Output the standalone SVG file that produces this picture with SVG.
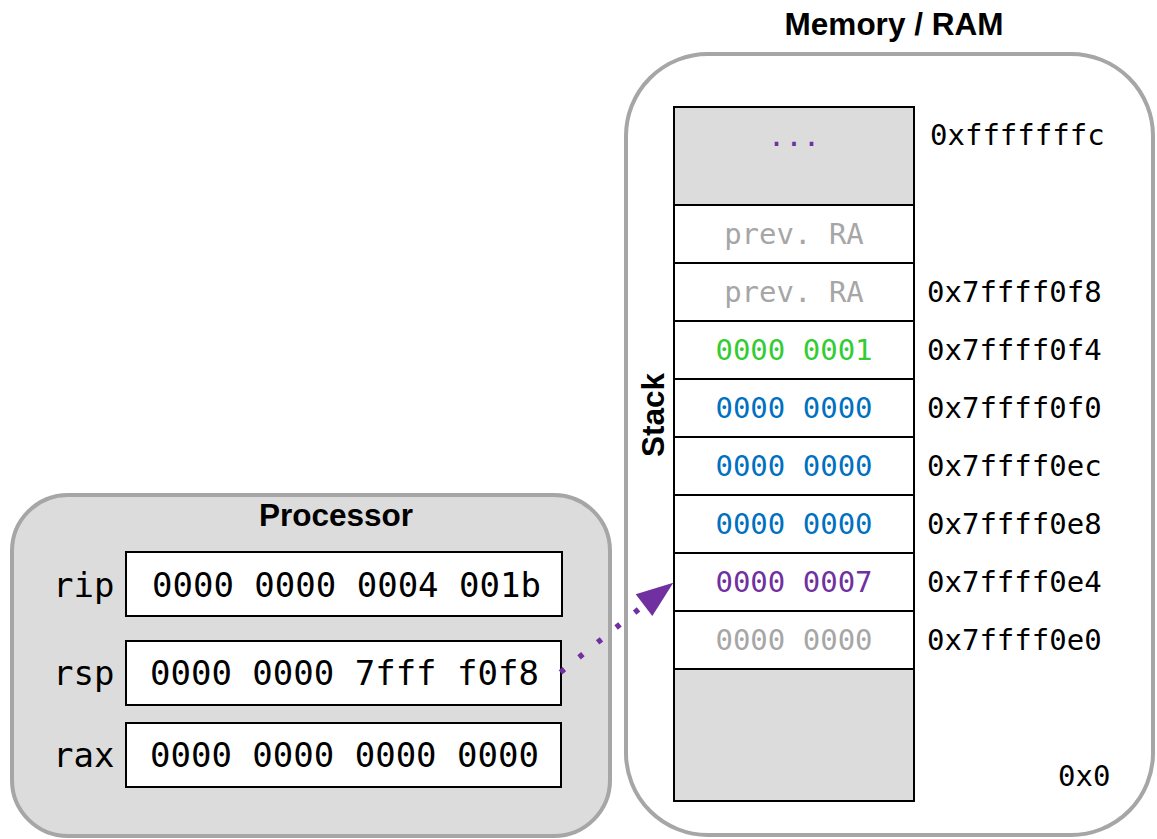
<svg xmlns="http://www.w3.org/2000/svg" width="1157" height="839" viewBox="0 0 1157 839">
<style>
.title{font-family:"Liberation Sans",Arial,sans-serif;font-weight:bold;font-size:31.5px;fill:#000}
.mono{font-family:"DejaVu Sans Mono",monospace;font-size:29px}
.reg{font-family:"DejaVu Sans Mono",monospace;font-size:34px;fill:#000}
.cell{stroke:#000;stroke-width:2;fill:#fff}
.gcell{stroke:#000;stroke-width:2;fill:#dcdcdc}
.addr{fill:#000}
.c{text-anchor:middle}
.purple{fill:#7030a0}
.green{fill:#33cc33}
.blue{fill:#0070c0}
.gray{fill:#a6a6a6}
.frame{stroke:#a6a6a6;stroke-width:4}
.conn{stroke:#7030a0;stroke-width:5.5;stroke-dasharray:5 18.8;fill:none}
.head{fill:#7030a0}
</style>
<rect width="1157" height="839" fill="#fff"/>

<g id="memory">
<text class="title c" x="894" y="35">Memory / RAM</text>
<rect class="frame" x="626" y="54" width="527" height="781" rx="82" ry="82" fill="#fff"/>
<text class="title c" transform="translate(664,415) rotate(-90)">Stack</text>
</g>

<g id="stack">
<g id="cell-top"><rect class="gcell" x="674" y="107" width="240" height="98"/><text class="mono purple c" x="794" y="146">...</text></g>
<g id="cell-1"><rect class="cell" x="674" y="205" width="240" height="58"/><text class="mono gray c" x="794" y="244">prev. RA</text></g>
<g id="cell-2"><rect class="cell" x="674" y="263" width="240" height="58"/><text class="mono gray c" x="794" y="302">prev. RA</text></g>
<g id="cell-3"><rect class="cell" x="674" y="321" width="240" height="58"/><text class="mono green c" x="794" y="360">0000 0001</text></g>
<g id="cell-4"><rect class="cell" x="674" y="379" width="240" height="58"/><text class="mono blue c" x="794" y="418">0000 0000</text></g>
<g id="cell-5"><rect class="cell" x="674" y="437" width="240" height="58"/><text class="mono blue c" x="794" y="476">0000 0000</text></g>
<g id="cell-6"><rect class="cell" x="674" y="495" width="240" height="58"/><text class="mono blue c" x="794" y="534">0000 0000</text></g>
<g id="cell-7"><rect class="cell" x="674" y="553" width="240" height="58"/><text class="mono purple c" x="794" y="592">0000 0007</text></g>
<g id="cell-8"><rect class="cell" x="674" y="611" width="240" height="58"/><text class="mono gray c" x="794" y="650">0000 0000</text></g>
<g id="cell-bottom"><rect class="gcell" x="674" y="669" width="240" height="132"/></g>
</g>

<g id="addresses">
<text class="mono addr" x="930" y="145">0xfffffffc</text>
<text class="mono addr" x="927" y="302">0x7ffff0f8</text>
<text class="mono addr" x="927" y="360">0x7ffff0f4</text>
<text class="mono addr" x="927" y="418">0x7ffff0f0</text>
<text class="mono addr" x="927" y="476">0x7ffff0ec</text>
<text class="mono addr" x="927" y="534">0x7ffff0e8</text>
<text class="mono addr" x="927" y="592">0x7ffff0e4</text>
<text class="mono addr" x="927" y="650">0x7ffff0e0</text>
<text class="mono addr" x="1058" y="786">0x0</text>
</g>

<g id="processor">
<rect class="frame" x="12" y="495" width="598" height="341" rx="56" ry="56" fill="#dcdcdc"/>
<text class="title c" x="336" y="526">Processor</text>
<g id="reg-rip"><text class="reg" x="53" y="597">rip</text><rect class="cell" x="126" y="552" width="436" height="64"/><text class="reg" x="152" y="597">0000 0000 0004 001b</text></g>
<g id="reg-rsp"><text class="reg" x="53" y="685">rsp</text><rect class="cell" x="126" y="641" width="435" height="64"/><text class="reg" x="150" y="685">0000 0000 7fff f0f8</text></g>
<g id="reg-rax"><text class="reg" x="53" y="767">rax</text><rect class="cell" x="126" y="723" width="435" height="64"/><text class="reg" x="150" y="767">0000 0000 0000 0000</text></g>
</g>

<g id="connectors">
<line class="conn" x1="560.5" y1="672.3" x2="644" y2="605"/>
<polygon class="head" points="635.7,594.3 673.3,582.7 652.3,616"/>
</g>
</svg>
